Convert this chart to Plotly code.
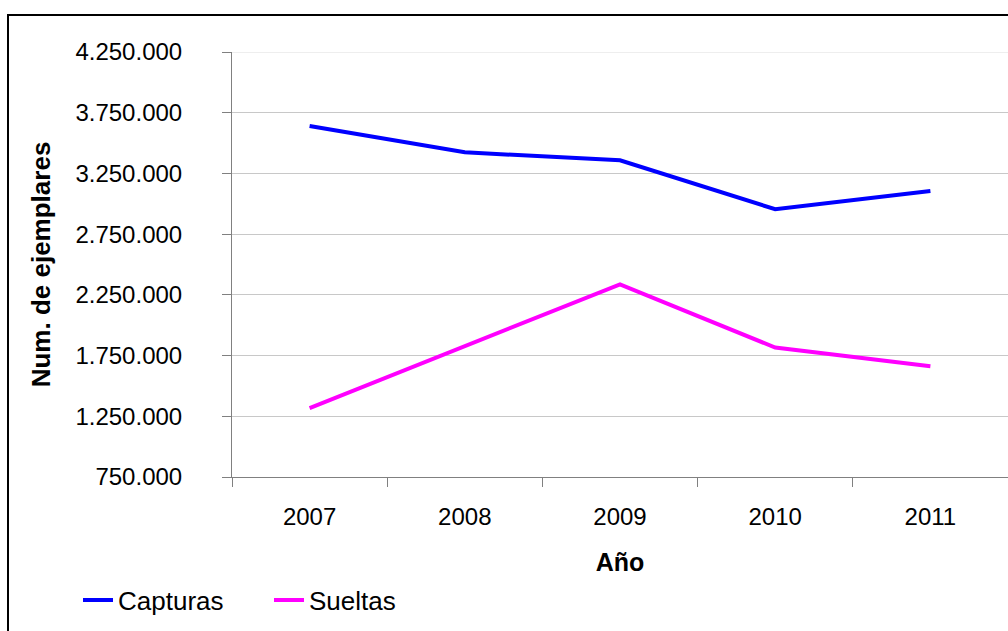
import plotly.graph_objects as go

years = ["2007", "2008", "2009", "2010", "2011"]
capturas = [3641000, 3424000, 3358000, 2955000, 3105000]
sueltas = [1318000, 1826000, 2337000, 1816000, 1662000]
y_ticks = [750000, 1250000, 1750000, 2250000, 2750000, 3250000, 3750000, 4250000]
y_tick_text = ["750.000", "1.250.000", "1.750.000", "2.250.000",
               "2.750.000", "3.250.000", "3.750.000", "4.250.000"]

FONT = "Liberation Sans, Arial, sans-serif"

fig = go.Figure()
fig.add_trace(go.Scatter(x=years, y=capturas, mode="lines", name="Capturas",
                         line=dict(color="#0000FF", width=4), legend="legend",
                         showlegend=True))
fig.add_trace(go.Scatter(x=years, y=sueltas, mode="lines", name="Sueltas",
                         line=dict(color="#FF00FF", width=4), legend="legend2",
                         showlegend=True))

L, R, T, B = 232, 0, 52, 154
W, H = 1008, 631
pw, ph = W - L - R, H - T - B

def px_x(x):
    return (x - L) / pw

def px_y(y):
    return (H - B - y) / ph

fig.update_layout(
    width=W, height=H,
    margin=dict(l=L, r=R, t=T, b=B),
    paper_bgcolor="white", plot_bgcolor="white",
    showlegend=True,
    font=dict(family=FONT, size=24, color="black"),
    xaxis=dict(
        type="category", range=[-0.5, 4.5],
        showgrid=False, showline=True, linecolor="#808080", linewidth=1,
        ticks="outside", tickson="boundaries", ticklen=9, tickcolor="#808080",
        tickfont=dict(size=24), ticklabelstandoff=18,
        title=dict(text="<b>Año</b>", font=dict(size=25), standoff=24),
    ),
    yaxis=dict(
        range=[750000, 4250000], tickvals=y_ticks, ticktext=y_tick_text,
        showgrid=True, gridcolor="#c8c8c8", gridwidth=1,
        showline=True, linecolor="#808080", linewidth=1,
        ticks="outside", ticklen=9, tickcolor="#808080",
        tickfont=dict(size=24), ticklabelstandoff=35, zeroline=False,
        title=dict(text="<b>Num. de ejemplares</b>", font=dict(size=26), standoff=17),
    ),
    legend=dict(visible=True, orientation="h", x=px_x(78), y=px_y(600),
                xanchor="left", yanchor="middle",
                font=dict(size=26), bgcolor="rgba(0,0,0,0)", borderwidth=0),
    legend2=dict(visible=True, orientation="h", x=px_x(269), y=px_y(600),
                 xanchor="left", yanchor="middle",
                 font=dict(size=26), bgcolor="rgba(0,0,0,0)", borderwidth=0),
    shapes=[
        # outer chart frame
        dict(type="rect", xref="paper", yref="paper",
             x0=px_x(8), x1=px_x(1030), y0=px_y(660), y1=px_y(15),
             line=dict(color="black", width=2), fillcolor="rgba(0,0,0,0)", layer="below"),
        # faint top edge of the plot area
        dict(type="line", xref="paper", yref="y", x0=0, x1=1,
             y0=y_ticks[-1], y1=y_ticks[-1],
             line=dict(color="#eeeeee", width=2), layer="between"),
    ],
)

fig.write_html("out.html")
